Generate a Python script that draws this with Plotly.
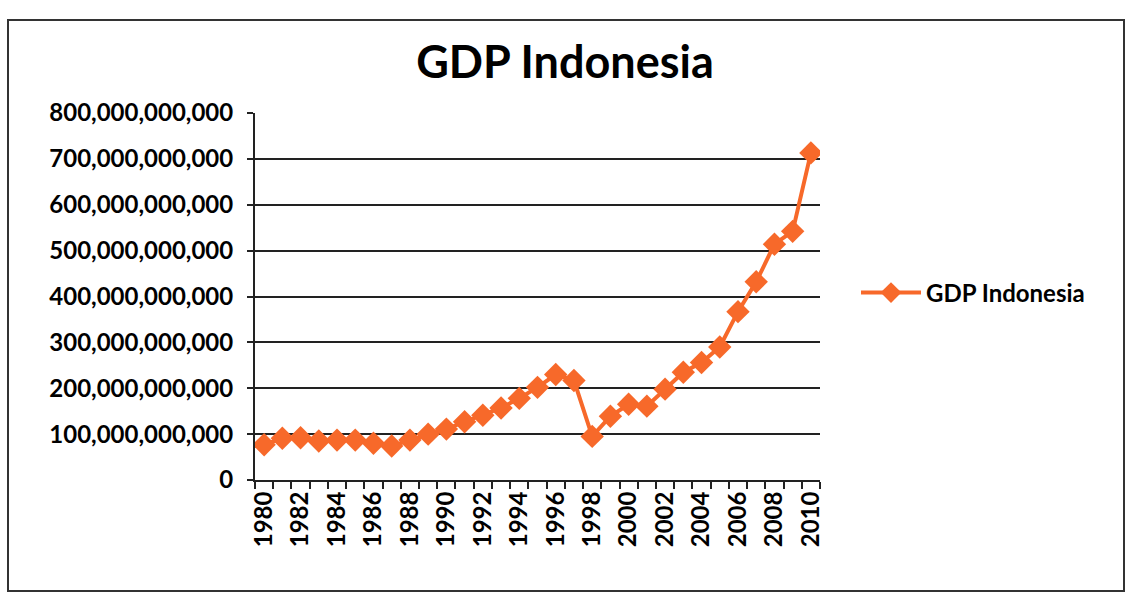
import plotly.graph_objects as go

# GDP of Indonesia, current US$, 1980-2010
years = list(range(1980, 2011))
gdp = [
    77e9, 91e9, 92e9, 85e9, 87e9, 87e9, 80e9, 74e9, 87e9, 100e9,
    111e9, 127e9, 141e9, 157e9, 178e9, 202e9, 230e9, 217e9, 95e9, 139e9,
    165e9, 161e9, 198e9, 235e9, 256e9, 290e9, 367e9, 432e9, 514e9, 542e9,
    713e9,
]
y_ticks = [0, 100e9, 200e9, 300e9, 400e9, 500e9, 600e9, 700e9, 800e9]
x_labels = list(range(1980, 2011, 2))

W, H = 1130, 598
L, R, T, B = 255, 310, 113, 118
pw, ph = W - L - R, H - T - B

ORANGE = "#F7692A"
FONT = "Lato"

fig = go.Figure()
fig.add_trace(go.Scatter(
    x=years, y=gdp, mode="lines+markers", name="GDP Indonesia",
    line=dict(color=ORANGE, width=4),
    marker=dict(symbol="diamond", size=18, color=ORANGE),
))

def px_x(v):
    return (v - L) / pw

def px_y(v):
    return (H - B - v) / ph

fig.update_layout(
    width=W, height=H,
    margin=dict(l=L, r=R, t=T, b=B),
    paper_bgcolor="white", plot_bgcolor="white",
    title=dict(text="<b>GDP Indonesia</b>", x=0.5, xanchor="center",
               y=1 - 62 / H, yanchor="middle", yref="container",
               font=dict(family=FONT, size=45, color="black")),
    showlegend=True,
    legend=dict(x=px_x(856), y=px_y(293), xanchor="left", yanchor="middle",
                font=dict(family=FONT, size=24, color="black", weight="bold"),
                bgcolor="rgba(0,0,0,0)", itemwidth=60),
    xaxis=dict(
        range=[1979.5, 2010.5], tickmode="array", tickvals=x_labels,
        ticktext=[str(v) for v in x_labels], tickangle=-90,
        tickfont=dict(family=FONT, size=24, color="black", weight="bold"),
        ticks="outside", ticklen=0, showgrid=False, zeroline=False,
        showline=True, linecolor="#222", linewidth=2,
        minor=dict(tickmode="array",
                   tickvals=[y + 0.5 for y in range(1979, 2011)],
                   ticks="outside", ticklen=7, tickwidth=1.5, tickcolor="#222"),
    ),
    yaxis=dict(
        range=[0, 800e9], tickmode="array", tickvals=y_ticks,
        ticktext=[f"{v:,.0f}" for v in y_ticks],
        tickfont=dict(family=FONT, size=24, color="black", weight="bold"),
        ticks="outside", ticklen=6, tickwidth=1.5, tickcolor="#222",
        ticklabelstandoff=9,
        showgrid=True, gridcolor="#222", gridwidth=1.5,
        zeroline=False, showline=True, linecolor="#222", linewidth=2,
    ),
)

# outer chart frame
fig.add_shape(type="rect", xref="paper", yref="paper",
              x0=px_x(8), x1=px_x(1124), y0=px_y(591), y1=px_y(20),
              line=dict(color="#333", width=2), fillcolor="rgba(0,0,0,0)",
              layer="below")

fig.write_html("out.html")
